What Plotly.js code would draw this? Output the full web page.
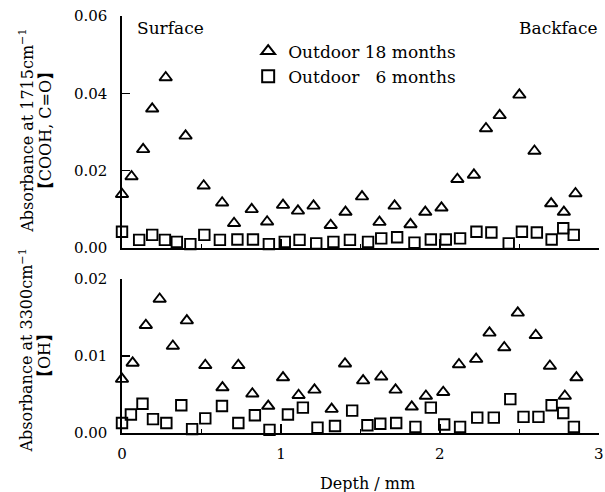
<!DOCTYPE html>
<html>
<head>
<meta charset="utf-8">
<script src="https://cdn.plot.ly/plotly-3.0.1.min.js"></script>
<style>html,body{margin:0;padding:0;background:#fff;}#chart{width:605px;height:492px;}</style>
</head>
<body>
<div id="chart"></div>
<script>
// Top panel: absorbance at 1715 cm-1 (COOH, C=O)
var depth18Top = [0, 0.06, 0.133, 0.19, 0.275, 0.40, 0.514, 0.63, 0.705, 0.816, 0.913, 1.013, 1.107, 1.205, 1.313, 1.406, 1.51, 1.62, 1.715, 1.815, 1.908, 2.01, 2.11, 2.214, 2.29, 2.376, 2.50, 2.595, 2.70, 2.78, 2.853];
var abs18Top = [0.0139, 0.0185, 0.0255, 0.0360, 0.0441, 0.0290, 0.0161, 0.0117, 0.0064, 0.0100, 0.0068, 0.0111, 0.0096, 0.0109, 0.0059, 0.0093, 0.0133, 0.0067, 0.0109, 0.0061, 0.0093, 0.0104, 0.0178, 0.0189, 0.0309, 0.0343, 0.0396, 0.0251, 0.0115, 0.0093, 0.0141];
var depth6Top = [0, 0.108, 0.19, 0.27, 0.345, 0.43, 0.518, 0.616, 0.726, 0.824, 0.924, 1.024, 1.117, 1.222, 1.33, 1.434, 1.548, 1.631, 1.731, 1.84, 1.943, 2.037, 2.127, 2.23, 2.324, 2.433, 2.516, 2.61, 2.703, 2.776, 2.842];
var abs6Top = [0.0042, 0.0021, 0.0034, 0.0021, 0.0016, 0.0010, 0.0034, 0.0021, 0.0022, 0.0022, 0.0010, 0.0016, 0.0021, 0.0012, 0.0016, 0.0021, 0.0016, 0.0025, 0.0028, 0.0014, 0.0022, 0.0022, 0.0025, 0.0042, 0.0040, 0.0012, 0.0042, 0.0040, 0.0022, 0.0051, 0.0034];

// Bottom panel: absorbance at 3300 cm-1 (OH)
var depth18Bot = [0, 0.067, 0.15, 0.237, 0.32, 0.408, 0.524, 0.632, 0.732, 0.82, 0.92, 1.013, 1.111, 1.211, 1.319, 1.403, 1.517, 1.631, 1.721, 1.823, 1.912, 2.021, 2.12, 2.228, 2.312, 2.405, 2.49, 2.603, 2.692, 2.786, 2.859];
var abs18Bot = [0.0070, 0.0091, 0.0140, 0.0174, 0.0113, 0.0146, 0.0088, 0.0059, 0.0088, 0.0051, 0.0035, 0.0072, 0.0049, 0.0056, 0.0031, 0.0090, 0.0068, 0.0073, 0.0056, 0.0034, 0.0048, 0.0053, 0.0089, 0.0096, 0.0130, 0.0111, 0.0156, 0.0127, 0.0087, 0.0048, 0.0072];
var depth6Bot = [0, 0.056, 0.129, 0.195, 0.279, 0.373, 0.441, 0.524, 0.629, 0.732, 0.836, 0.928, 1.044, 1.138, 1.23, 1.34, 1.448, 1.544, 1.625, 1.725, 1.846, 1.943, 2.027, 2.127, 2.235, 2.339, 2.443, 2.526, 2.62, 2.703, 2.776, 2.843];
var abs6Bot = [0.0013, 0.0024, 0.0038, 0.0018, 0.0013, 0.0036, 0.0005, 0.0019, 0.0035, 0.0013, 0.0023, 0.0004, 0.0024, 0.0033, 0.0007, 0.0009, 0.0029, 0.0010, 0.0012, 0.0013, 0.0008, 0.0033, 0.0011, 0.0008, 0.0020, 0.0020, 0.0044, 0.0021, 0.0021, 0.0036, 0.0026, 0.0008];

var seriesNames = ['Outdoor 18 months', 'Outdoor \u20076 months'];
var xTickVals = [0, 1, 2, 3];
var xTickText = ['0', '1', '2', '3'];

var FONT = 'DejaVu Serif, Liberation Serif, serif';
var triMarker = {symbol: 'triangle-up-open', size: 11, color: '#000', line: {color: '#000', width: 1.9}};
var sqMarker = {symbol: 'square-open', size: 10.5, color: '#000', line: {color: '#000', width: 1.9}};

var traces = [
  {x: depth18Top, y: abs18Top, xaxis: 'x2', yaxis: 'y2', mode: 'markers', name: seriesNames[0], marker: triMarker, cliponaxis: false, showlegend: true},
  {x: depth6Top, y: abs6Top, xaxis: 'x2', yaxis: 'y2', mode: 'markers', name: seriesNames[1], marker: sqMarker, cliponaxis: false, showlegend: true},
  {x: depth18Bot, y: abs18Bot, xaxis: 'x', yaxis: 'y', mode: 'markers', name: seriesNames[0], marker: triMarker, cliponaxis: false, showlegend: false},
  {x: depth6Bot, y: abs6Bot, xaxis: 'x', yaxis: 'y', mode: 'markers', name: seriesNames[1], marker: sqMarker, cliponaxis: false, showlegend: false}
];

var xCommon = {
  range: [0, 3.001], showgrid: false, zeroline: false, showline: true, linecolor: '#000', linewidth: 1.6,
  ticks: 'inside', ticklen: 9, tickwidth: 1.6, tickcolor: '#000',
  tickvals: xTickVals, ticktext: xTickText,
  minor: {dtick: 0.5, ticks: 'inside', ticklen: 4, tickwidth: 1.4, tickcolor: '#000'},
  tickfont: {family: FONT, size: 15, color: '#000'}, ticklabelstandoff: 6, ticklabeloverflow: 'allow'
};
var yCommon = {
  showgrid: false, zeroline: false, showline: true, linecolor: '#000', linewidth: 1.6,
  ticks: 'inside', ticklen: 8, tickwidth: 1.6, tickcolor: '#000', tickformat: '.2f',
  tickfont: {family: FONT, size: 15, color: '#000'}, ticklabelstandoff: 10
};

var layout = {
  width: 605, height: 492,
  margin: {l: 122, r: 6, t: 16, b: 59},
  paper_bgcolor: '#fff', plot_bgcolor: '#fff',
  font: {family: FONT, color: '#000'},
  xaxis: Object.assign({}, xCommon, {anchor: 'y', showticklabels: true}),
  xaxis2: Object.assign({}, xCommon, {anchor: 'y2', matches: 'x', showticklabels: false}),
  yaxis: Object.assign({}, yCommon, {domain: [0, 0.3693], range: [0, 0.02], dtick: 0.01, anchor: 'x'}),
  yaxis2: Object.assign({}, yCommon, {domain: [0.4436, 1], range: [0, 0.06], dtick: 0.02, anchor: 'x2'}),
  showlegend: true,
  legend: {x: 0.2645, xanchor: 'left', y: 0.958, yanchor: 'top', bgcolor: 'rgba(0,0,0,0)',
           font: {family: FONT, size: 17, color: '#000'}, tracegroupgap: 0, itemsizing: 'constant'},
  annotations: [
    {text: 'Surface', xref: 'paper', yref: 'paper', x: 0.027, y: 0.971, xanchor: 'left', yanchor: 'middle', showarrow: false, font: {family: FONT, size: 17, color: '#000'}},
    {text: 'Backface', xref: 'paper', yref: 'paper', x: 1.0, y: 0.971, xanchor: 'right', yanchor: 'middle', showarrow: false, font: {family: FONT, size: 17, color: '#000'}},
    {text: 'Depth / mm', xref: 'paper', yref: 'paper', x: 0.515, y: -0.12, xanchor: 'center', yanchor: 'middle', showarrow: false, font: {family: FONT, size: 16, color: '#000'}},
    {text: 'Absorbance at 1715cm<sup>\u22121</sup>', xref: 'paper', yref: 'paper', x: -0.2, y: 0.724, xanchor: 'center', yanchor: 'middle', textangle: -90, showarrow: false, font: {family: FONT, size: 16, color: '#000'}},
    {text: '<b>\u3010</b>COOH, C=O<b>\u3011</b>', xref: 'paper', yref: 'paper', x: -0.161, y: 0.724, xanchor: 'center', yanchor: 'middle', textangle: -90, showarrow: false, font: {family: FONT, size: 16, color: '#000'}},
    {text: 'Absorbance at 3300cm<sup>\u22121</sup>', xref: 'paper', yref: 'paper', x: -0.2, y: 0.197, xanchor: 'center', yanchor: 'middle', textangle: -90, showarrow: false, font: {family: FONT, size: 16, color: '#000'}},
    {text: '<b>\u3010</b>OH<b>\u3011</b>', xref: 'paper', yref: 'paper', x: -0.161, y: 0.185, xanchor: 'center', yanchor: 'middle', textangle: -90, showarrow: false, font: {family: FONT, size: 16, color: '#000'}}
  ]
};

Plotly.newPlot('chart', traces, layout, {staticPlot: true, displayModeBar: false});
</script>
</body>
</html>
